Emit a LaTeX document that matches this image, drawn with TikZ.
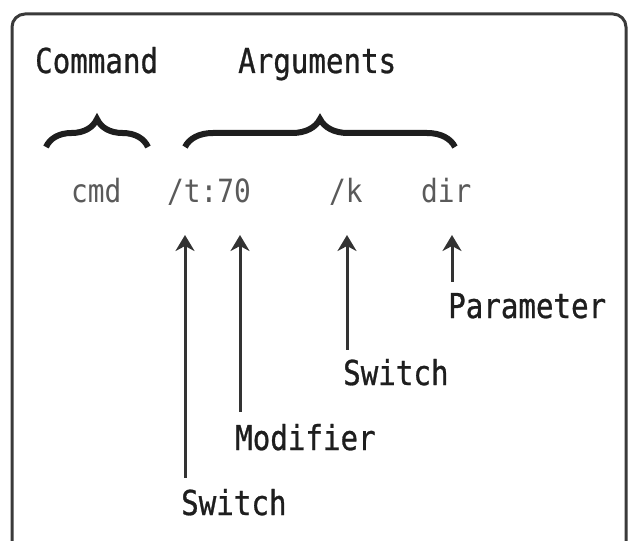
\documentclass[tikz,border=0pt]{standalone}
\usepackage{fontspec}
\usetikzlibrary{decorations.pathreplacing,arrows.meta,calc}
\newfontfamily\lblfont[FakeStretch=0.85,FakeBold=0.8]{DejaVu Sans Mono}
\newfontfamily\codefont[FakeStretch=0.87]{DejaVu Sans Mono}
\definecolor{ink}{HTML}{1E1E1E}
\definecolor{codeink}{HTML}{5A5A5A}
\definecolor{framecol}{HTML}{3A3A3A}
\begin{document}
\begin{tikzpicture}[x=1pt,y=-1pt,
  lbl/.style={anchor=base west,inner sep=0pt,text=ink,font=\lblfont\fontsize{34.3}{40}\selectfont},
  code/.style={anchor=base west,inner sep=0pt,text=codeink,font=\codefont\fontsize{32}{38}\selectfont},
  bracestyle/.style={draw=ink,line width=6pt,decorate,decoration={brace,amplitude=28pt}},
  arr/.style={draw=black!80,line width=3pt,-{Stealth[length=16pt,width=19pt,inset=5pt]}}]
\clip (0,0) rectangle (628,540);
\fill[white] (0,0) rectangle (628,540);
\draw[framecol,line width=3pt,rounded corners=13pt] (12,14) rectangle (626,556);
% headings
\node[lbl] (command) at (35,73) {Command};
\node[lbl] (arguments) at (238,73) {Arguments};
% braces
\draw[bracestyle] (46,147) -- (148,147);
\draw[bracestyle] (185,147) -- (455,147);
% code line
\node[code] (cmd) at (71,202) {cmd};
\node[code] (t70) at (167,202) {/t:70};
\node[code] (k) at (329,202) {/k};
\node[code] (dir) at (421,202) {dir};
% labels
\node[lbl] (sw1) at (181,515) {Switch};
\node[lbl] (mod) at (235,450) {Modifier};
\node[lbl] (sw2) at (343,385) {Switch};
\node[lbl] (par) at (448,318) {Parameter};
% arrow tips
\coordinate (h1) at (185,235);
\coordinate (h2) at (240,235);
\coordinate (h3) at (347,235);
\coordinate (h4) at (452,235);
\draw[arr] ($(h1 |- sw1.north)+(0,-11)$) -- (h1);
\draw[arr] ($(h2 |- mod.north)+(0,-12)$) -- (h2);
\draw[arr] ($(h3 |- sw2.north)+(0,-9)$) -- (h3);
\draw[arr] ($(h4 |- par.north)+(0,-11)$) -- (h4);
\end{tikzpicture}
\end{document}
